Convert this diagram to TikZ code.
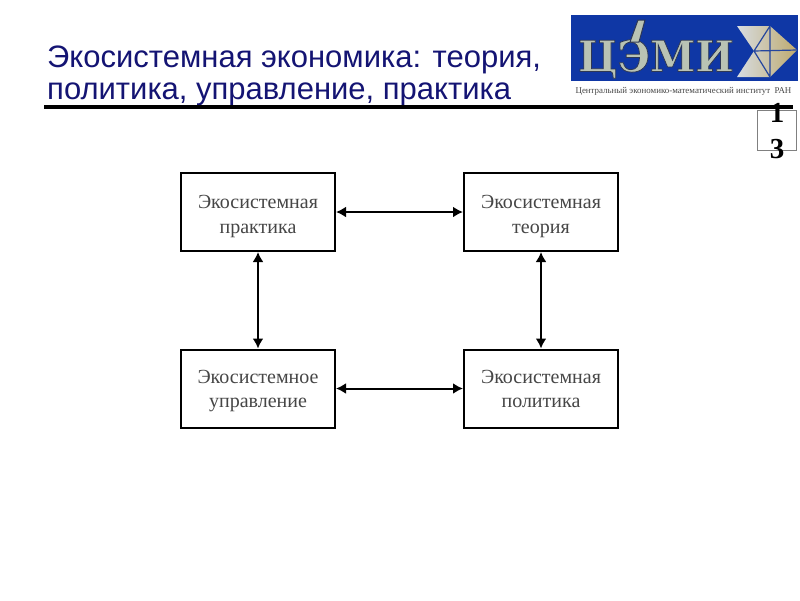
\documentclass[tikz,border=0pt]{standalone}
\usepackage{fontspec}
\setmainfont{Liberation Serif}
\newfontfamily\titlefont{Liberation Sans}
\newfontfamily\logofont{DejaVu Serif}
\usetikzlibrary{arrows.meta}
\definecolor{titleblue}{RGB}{20,20,115}
\definecolor{logoblue}{RGB}{15,55,165}
\definecolor{logogray}{RGB}{185,195,180}
\definecolor{logodark}{RGB}{45,55,85}
\definecolor{labelgray}{RGB}{70,70,70}
\definecolor{tanlight}{RGB}{215,220,225}
\definecolor{tandark}{RGB}{190,170,110}
\newcommand{\firstline}{\rule{0pt}{23pt}}
\newcommand{\firstlinelow}{\rule{0pt}{19pt}}
\newcommand{\lastline}{\rule[-5pt]{0pt}{5pt}}
\newcommand{\strokedtext}[1]{\special{pdf:code 2 Tr 0.8 w 0.18 0.22 0.33 RG}#1\special{pdf:code 0 Tr}}
\tikzset{
  box/.style={draw=black,line width=2pt,fill=white,minimum width=154pt,minimum height=78pt,inner sep=0pt,align=center,font=\fontsize{20}{24.5}\selectfont,text=labelgray},
  link/.style={line width=2pt,{Latex[length=10pt,width=11pt]}-{Latex[length=10pt,width=11pt]}},
  ttl/.style={anchor=base west,inner sep=0pt,text=titleblue,font=\titlefont\fontsize{31}{31}\selectfont},
  logotext/.style={inner sep=0pt,font=\logofont\bfseries\fontsize{43}{43}\selectfont,xscale=0.95},
  pagedigit/.style={inner sep=0pt,font=\bfseries\fontsize{29}{29}\selectfont}
}
\begin{document}
\begin{tikzpicture}[x=1pt,y=-1pt]
\useasboundingbox (0,0) rectangle (800,600);
% title
\node[ttl] (t1) at (47,67) {Экосистемная экономика: теория,};
\node[ttl] (t2) at (47,99) {политика, управление, практика};
\fill[black] (44,104.5) rectangle (793,108.5);
% logo
\fill[logoblue] (571,15) rectangle (798,81);
\node[logotext,text=logogray] (logob) at (656,59) {\strokedtext{ЦЭМИ}};
\fill[logogray,draw=logodark,line width=1pt] (630,42) -- (638,20) -- (645,20) -- (639,42) -- cycle;
\path[left color=tanlight,right color=tandark] (737,26) -- (770,26) -- (797,50) -- (770,77) -- (737,77) -- (754,51) -- cycle;
\draw[logoblue!80!gray,line width=1.2pt] (770,26) -- (770,77) (754,51) -- (797,50) (770,26) -- (754,51) -- (770,77);
\node[inner sep=0pt,text=labelgray,font=\fontsize{8.9}{10}\selectfont] (sub) at (683.5,91) {Центральный экономико-математический институт~~РАН};
% page number
\node[draw=gray,line width=0.8pt,minimum width=39pt,minimum height=40pt,inner sep=0pt] (pg) at (777,130) {};
\node[pagedigit] (n1) at (777,112.5) {1};
\node[pagedigit] (n2) at (777,149) {3};
% boxes
\node[box] (a) at (258,212) {\firstline Экосистемная\\практика\lastline};
\node[box] (b) at (541,212) {\firstline Экосистемная\\теория\lastline};
\node[box] (c) at (258,388.5) {\firstlinelow Экосистемное\\управление\lastline};
\node[box] (d) at (541,388.5) {\firstlinelow Экосистемная\\политика\lastline};
\draw[link] (a) -- (b);
\draw[link] (c) -- (d);
\draw[link] (a) -- (c);
\draw[link] (b) -- (d);
\end{tikzpicture}
\end{document}
